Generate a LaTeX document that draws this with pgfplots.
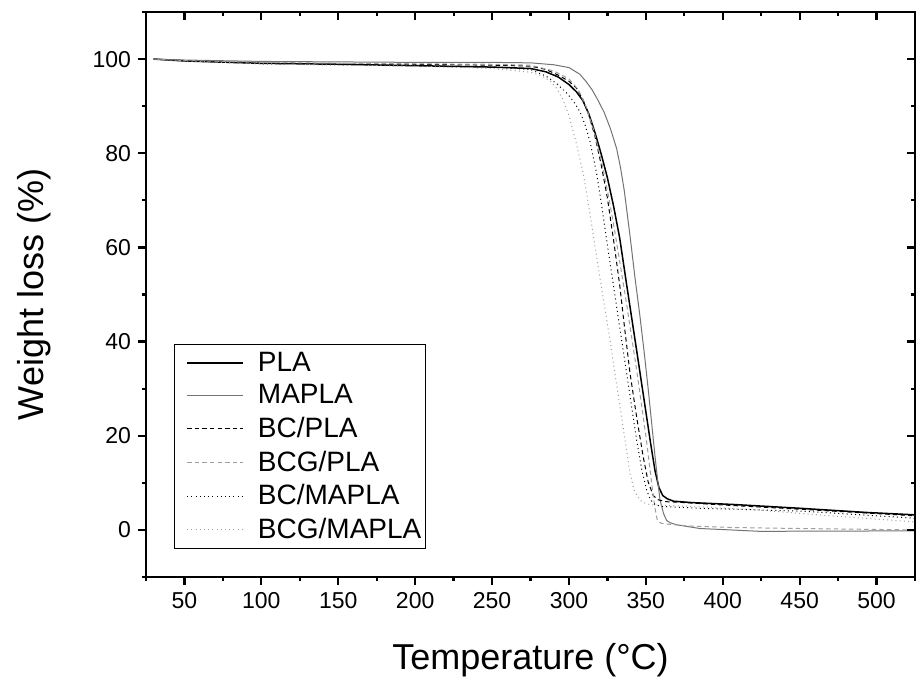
\documentclass[border=0pt]{standalone}
\usepackage{fontspec}
\setmainfont{Liberation Sans}
\usepackage{pgfplots}
\pgfplotsset{compat=1.18}
\definecolor{gmid}{gray}{0.45}
\definecolor{glight}{gray}{0.62}

\pgfplotstableread{
x y
30 100
50 99.6
100 99.1
150 98.9
200 98.6
250 98.3
275 98.0
285 97.3
293 96.2
300 94.6
305 93.0
309 91.2
313 88.3
317 84.3
321 79.8
325 74.8
329 68.8
333 62.0
337 53.2
341 44.6
345 36.0
349 27.3
353 18.6
356 12.5
358.5 9.0
361 7.3
364 6.6
368 6.1
380 5.8
407 5.4
450 4.6
494 3.7
525 3.2
}\pla
\pgfplotstableread{
x y
30 100
50 99.8
100 99.5
150 99.4
200 99.3
250 99.3
275 99.2
290 98.8
300 98.2
307 96.8
311 95.3
315 93.5
319 91.2
323 88.6
327 85.2
331 81.0
333.5 77.0
336 72.0
339.7 62.5
343 53.4
346.2 45.3
349 37.5
351.6 29.7
354 22.0
356 15.5
357.7 10.5
359.2 6.4
361.5 3.5
363.5 2.0
366 1.5
370 1.1
385 0.3
405 0.0
424 -0.3
525 -0.2
}\mapla
\pgfplotstableread{
x y
30 100
50 99.7
100 99.2
150 99.0
200 98.9
250 98.7
275 98.5
285 97.8
293 96.6
300 95.3
305 93.8
309 91.5
313 88.0
317 83.5
321 77.5
325 70.5
329 61.6
333 52.0
336.5 42.0
339.7 33.3
344 24.0
348.3 15.5
351.5 10.2
354.8 7.3
358 6.4
363 6.0
370 5.9
400 5.3
450 4.4
525 3.0
}\bcpla
\pgfplotstableread{
x y
30 100
50 99.7
100 99.3
150 99.1
200 99.0
250 98.9
275 98.7
290 97.5
300 95.8
306 93.5
311 90.0
316 85.0
321 78.5
326 70.5
330 63.0
333.5 56.0
337 49.0
340.5 41.5
344 34.0
347 27.0
350 20.0
352.5 13.5
354.5 8.0
356 4.5
357.5 2.0
360 1.4
365 1.2
380 0.8
407 0.5
450 0.3
525 0.0
}\bcgpla
\pgfplotstableread{
x y
30 100
50 99.6
100 99.0
150 98.8
200 98.6
250 98.3
275 97.8
285 96.4
292 94.8
298.5 92.8
303 91.0
307.2 88.8
310.5 86.0
313.7 82.5
318 75.7
321 69.5
324.5 61.6
331 47.4
337.5 33.3
344 19.1
347.5 12.5
350.5 8.5
353 6.4
356 5.4
360 5.0
385 4.6
450 4.0
525 2.5
}\bcmapla
\pgfplotstableread{
x y
30 100
50 99.6
100 99.0
150 98.7
200 98.5
250 98.0
275 97.2
282 96.5
288 95.3
292 93.8
296 91.5
300 88.0
304.5 82.5
309.3 75.7
313.5 67.5
318 58.0
322 49.8
326.7 40.3
330 33.0
333.2 26.2
336.5 19.0
339.7 12.0
342.5 8.3
346.2 6.3
350 5.6
355 5.3
380 5.0
420 4.3
470 3.0
525 1.7
}\bcgmapla

\begin{document}
\begin{tikzpicture}
\pgfplotsset{
  common/.style={
    width=384.5pt, height=282.5pt, scale only axis,
    xmin=25, xmax=525, ymin=-10, ymax=110,
    xtick={50,100,...,500}, ytick={0,20,...,100},
    minor xtick={25,75,...,525}, minor ytick={-10,10,...,110},
    major tick length=4pt, minor tick length=2pt,
    every tick/.style={black, line width=1.1pt},
    axis line style={line width=1.1pt},
    /pgf/number format/assume math mode=true,
    ticklabel style={font=\fontsize{11.5}{13}\selectfont},
  }
}
\begin{axis}[common,
  xtick pos=left, ytick pos=left, tick align=outside,
  xlabel={Temperature (°C)}, ylabel={Weight loss (\%)},
  xlabel style={font=\fontsize{18}{21}\selectfont, at={(axis description cs:0.5,-0.163)}, anchor=base},
  ylabel style={font=\fontsize{18}{21}\selectfont, at={(axis description cs:-0.146,0.5)}, anchor=center},
  legend style={at={(axis description cs:0.0364,0.0496)}, anchor=south west,
    draw=black, line width=0.5pt, font=\fontsize{14}{17}\selectfont,
    inner xsep=0pt, inner ysep=1.5pt, row sep=1.2pt},
  legend cell align=left,
  legend image code/.code={\draw[#1] (6pt,0pt) -- (34pt,0pt); \path (0pt,0pt) (39pt,0pt);},
]
\addplot[black, line width=0.75pt] table {\pla};
\addlegendentry{PLA}
\addplot[gmid, line width=0.5pt] table {\mapla};
\addlegendentry{MAPLA}
\addplot[black, line width=0.5pt, dash pattern=on 2.2pt off 1.6pt] table {\bcpla};
\addlegendentry{BC/PLA}
\addplot[glight, line width=0.5pt, dash pattern=on 2.2pt off 1.6pt] table {\bcgpla};
\addlegendentry{BCG/PLA}
\addplot[black, line width=0.5pt, dash pattern=on 0.5pt off 1.6pt] table {\bcmapla};
\addlegendentry{BC/MAPLA}
\addplot[glight, line width=0.5pt, dash pattern=on 0.5pt off 1.6pt] table {\bcgmapla};
\addlegendentry{BCG/MAPLA}
\end{axis}
\begin{axis}[common,
  xtick pos=right, ytick pos=right, tick align=inside,
  xticklabels={}, yticklabels={},
]
\end{axis}
\pgfresetboundingbox
\useasboundingbox (current axis.south west) ++(-73pt,-54.5pt) rectangle ([shift={(0.5pt,6pt)}]current axis.north east);
\end{tikzpicture}
\end{document}
